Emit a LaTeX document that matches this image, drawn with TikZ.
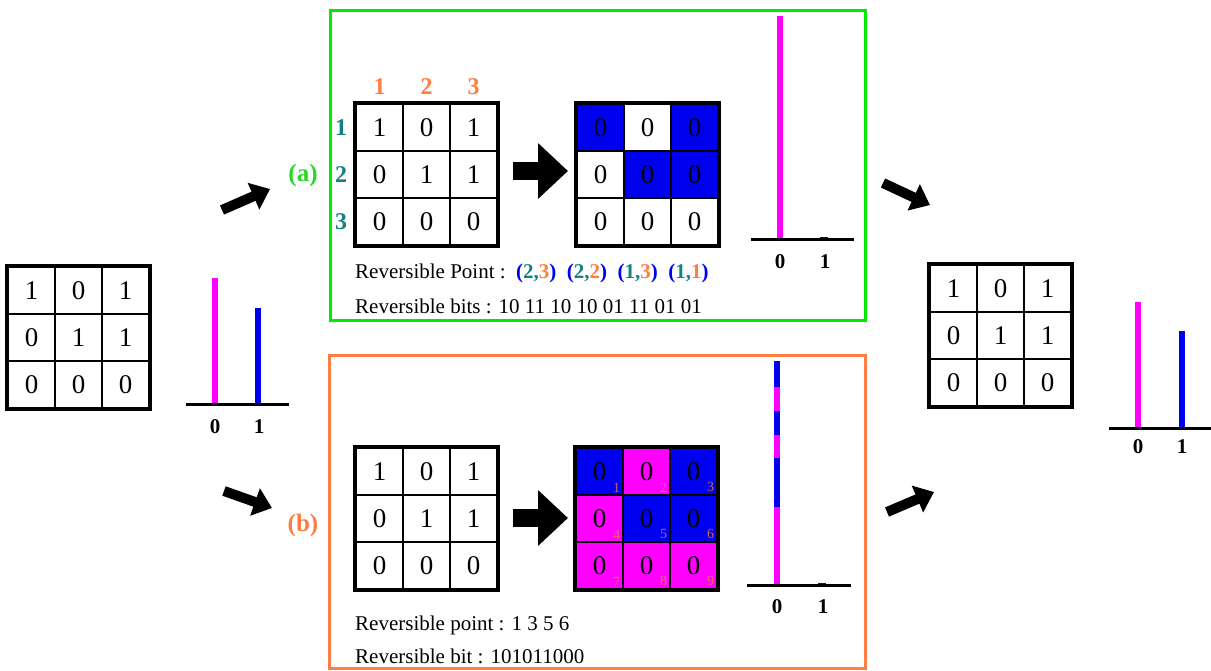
\documentclass[tikz,border=0pt]{standalone}
\usepackage{fontspec}
\setmainfont{Liberation Serif}
\usetikzlibrary{arrows.meta}

\definecolor{mag}{RGB}{255,0,255}
\definecolor{blu}{RGB}{0,0,240}
\definecolor{grn}{RGB}{0,235,0}
\definecolor{org}{RGB}{255,125,64}
\definecolor{tea}{RGB}{20,130,130}
\definecolor{lbl}{RGB}{40,215,40}

\tikzset{
  cell/.style={draw, line width=2.5pt, minimum size=47pt, inner sep=0pt,
    font=\fontsize{27}{27}\selectfont},
  frame/.style={line width=3.5pt},
  panel/.style={line width=3pt},
  thinarrow/.style={line width=10pt, -{Triangle[length=18pt,width=28pt]}},
  blockarrow/.style={line width=18pt, -{Triangle[length=30pt,width=54pt]}},
  axis/.style={line width=3pt},
  bar/.style={line width=6pt},
  axlbl/.style={font=\bfseries\fontsize{21}{21}\selectfont, inner sep=0pt},
  idx/.style={font=\bfseries\fontsize{24}{24}\selectfont, inner sep=0pt},
  tag/.style={font=\bfseries\fontsize{25}{25}\selectfont, inner sep=0pt},
  txt/.style={font=\fontsize{21}{21}\selectfont, anchor=west, inner sep=0pt},
  cellno/.style={font=\fontsize{14}{14}\selectfont, text=org, text opacity=.8,
    inner sep=0pt, anchor=south east},
}

% 3x3 grid of bit cells: name, left, top, list of value/fill
\newcommand\bitgrid[4]{%
  \foreach \v/\f [count=\k from 0] in {#4} {
    \pgfmathtruncatemacro\ci{mod(\k,3)+1}
    \pgfmathtruncatemacro\ri{div(\k,3)+1}
    \node[cell, fill=\f] (#1-\ri-\ci) at ({#2+23.5+47*(\ci-1)},{#3+23.5+47*(\ri-1)}) {\v};
  }
  \draw[frame] (#1-1-1.north west) rectangle (#1-3-3.south east);
}

% coloured (row,column) pair
\newcommand\rcpair[2]{{\bfseries\textcolor{blu}{(}\textcolor{tea}{#1,}\textcolor{org}{#2}\textcolor{blu}{)}}}

\begin{document}
\begin{tikzpicture}[x=1pt, y=-1pt]
\useasboundingbox (0,0) rectangle (1211,670);

% ---------- source image and histogram ----------
\bitgrid{src}{8}{267}{1/white,0/white,1/white,0/white,1/white,1/white,0/white,0/white,0/white}
\coordinate (sax0) at (186,404);
\coordinate (sax1) at (289,404);
\draw[bar, mag] (215,404) -- (215,278);
\draw[bar, blu] (258,404) -- (258,308);
\draw[axis] (sax0) -- (sax1);
\node[axlbl] (s0) at (215,427) {0};
\node[axlbl] (s1) at (259,427) {1};

% ---------- panel (a) ----------
\draw[panel, grn] (330,10) rectangle (865,320);
\node[tag, text=lbl] (tagA) at (303,175) {(a)};

\bitgrid{ta}{356}{104}{1/white,0/white,1/white,0/white,1/white,1/white,0/white,0/white,0/white}
\foreach \i in {1,2,3} {
  \node[idx, text=org] (col\i) at (ta-1-\i |- 0,87) {\i};
  \node[idx, text=tea] (row\i) at (341,0 |- ta-\i-1) {\i};
}
\bitgrid{tb}{577}{104}{0/blu,0/white,0/blu,0/white,0/blu,0/blu,0/white,0/white,0/white}
\coordinate (aa0) at (513,171);
\coordinate (aa1) at (568,171);
\draw[blockarrow] (aa0) -- (aa1);

\draw[bar, mag] (780,239) -- (780,16);
\draw[line width=1.5pt, blu] (820,237.5) -- (828,237.5);
\draw[axis] (751,239) -- (854,239);
\node[axlbl] (ha0) at (780,262) {0};
\node[axlbl] (ha1) at (825,262) {1};

\node[txt] (rpa) at (355,273) {Reversible Point :\ \ \rcpair{2}{3}\ \ \rcpair{2}{2}\ \ \rcpair{1}{3}\ \ \rcpair{1}{1}};
\node[txt] (rba) at (355,306) {Reversible bits : 10 11 10 10 01 11 01 01};

% ---------- panel (b) ----------
\draw[panel, org] (329,355) rectangle (865,668);
\node[tag, text=org] (tagB) at (303,525) {(b)};

\bitgrid{ba}{356}{448}{1/white,0/white,1/white,0/white,1/white,1/white,0/white,0/white,0/white}
\bitgrid{bb}{576}{448}{0/blu,0/mag,0/blu,0/mag,0/blu,0/blu,0/mag,0/mag,0/mag}
\foreach \r in {1,2,3} \foreach \c in {1,2,3} {
  \pgfmathtruncatemacro\n{3*(\r-1)+\c}
  \node[cellno] (no\n) at ([shift={(-4pt,4pt)}]bb-\r-\c.south east) {\n};
}
\coordinate (ba0) at (513,518);
\coordinate (ba1) at (568,518);
\draw[blockarrow] (ba0) -- (ba1);

\foreach \ya/\yb/\col in {361/387/blu, 387/411/mag, 411/435/blu, 435/458/mag, 458/507/blu, 507/585/mag}
  \draw[bar, \col] (777,\ya) -- (777,\yb);
\draw[line width=1.5pt, blu] (818,583.5) -- (826,583.5);
\draw[axis] (747,585) -- (851,585);
\node[axlbl] (hb0) at (777,607) {0};
\node[axlbl] (hb1) at (823,607) {1};

\node[txt] (rpb) at (355,625) {Reversible point : 1 3 5 6};
\node[txt] (rbb) at (355,656) {Reversible bit : 101011000};

% ---------- restored image and histogram ----------
\bitgrid{dst}{930}{265}{1/white,0/white,1/white,0/white,1/white,1/white,0/white,0/white,0/white}
\draw[bar, mag] (1138,428) -- (1138,302);
\draw[bar, blu] (1182,428) -- (1182,331);
\draw[axis] (1109,428) -- (1211,428);
\node[axlbl] (d0) at (1138,447) {0};
\node[axlbl] (d1) at (1182,447) {1};

% ---------- flow arrows ----------
\coordinate (f1a) at (222,210); \coordinate (f1b) at (270,189);
\coordinate (f2a) at (224,491); \coordinate (f2b) at (272,508);
\coordinate (f3a) at (883,183); \coordinate (f3b) at (930,205);
\coordinate (f4a) at (887,512); \coordinate (f4b) at (934,492);
\draw[thinarrow] (f1a) -- (f1b);
\draw[thinarrow] (f2a) -- (f2b);
\draw[thinarrow] (f3a) -- (f3b);
\draw[thinarrow] (f4a) -- (f4b);
\end{tikzpicture}
\end{document}
